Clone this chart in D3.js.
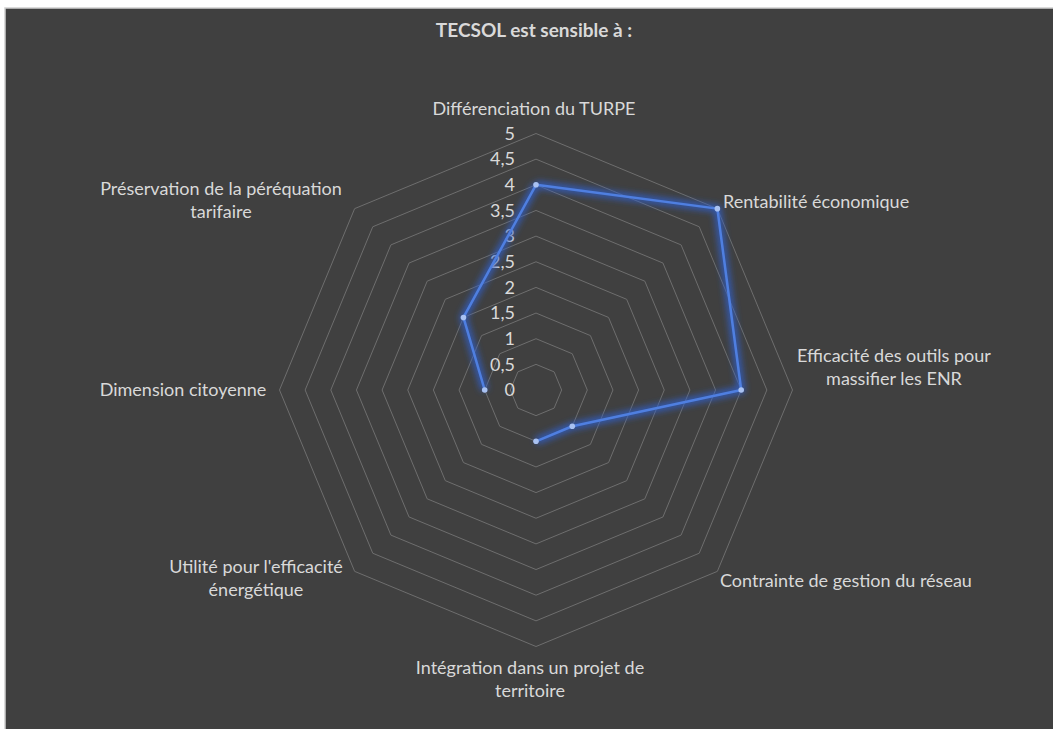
<!DOCTYPE html>
<html>
<head>
<meta charset="utf-8">
<script src="https://cdn.jsdelivr.net/npm/d3@7"></script>
<style>
  body { margin: 0; background: #ffffff; }
  text { font-family: Lato, "Open Sans", sans-serif; fill: #d9d9d9; }
</style>
</head>
<body>
<svg id="chart" width="1053" height="729"></svg>
<script>
// categories, clockwise from the top
const categories = [
    ["Différenciation du TURPE"],
    ["Rentabilité économique"],
    ["Efficacité des outils pour", "massifier les ENR"],
    ["Contrainte de gestion du réseau"],
    ["Intégration dans un projet de", "territoire"],
    ["Utilité pour l'efficacité", "énergétique"],
    ["Dimension citoyenne"],
    ["Préservation de la péréquation", "tarifaire"]
];
// series values (null = empty cell, gap in the line)
const values = [4, 5, 4, 1, 1, null, 1, 2];
// radial ticks
const ticks = [0, 0.5, 1, 1.5, 2, 2.5, 3, 3.5, 4, 4.5, 5];
const tickLabels = ["0", "0,5", "1", "1,5", "2", "2,5", "3", "3,5", "4", "4,5", "5"];
const title = "TECSOL est sensible à :";

const svg = d3.select("#chart");
const cx = 536, cy = 390;

// chart area background
svg.append("rect")
    .attr("x", 5).attr("y", 8)
    .attr("width", 1060).attr("height", 730)
    .attr("fill", "#404040")
    .attr("stroke", "#cfcfcf")
    .attr("stroke-width", 1.5);

svg.append("text")
    .attr("x", 534).attr("y", 37)
    .attr("text-anchor", "middle")
    .style("font-size", "19px")
    .style("font-weight", "bold")
    .text(title);

let r = d3.scaleLinear().domain([0, 5]).range([0, 256.5]);
let n = categories.length;
let angle = i => i * 2 * Math.PI / n;
let px = (i, v) => cx + r(v) * Math.sin(angle(i));
let py = (i, v) => cy - r(v) * Math.cos(angle(i));

let g = svg.append("g");

// grid octagons
g.selectAll("polygon.grid")
    .data(ticks.filter(t => t > 0))
    .enter()
    .append("polygon")
    .attr("class", "grid")
    .attr("points", t => d3.range(n).map(i => px(i, t) + "," + py(i, t)).join(" "))
    .attr("fill", "none")
    .attr("stroke", "#6e6e6e")
    .attr("stroke-width", 1);

// tick labels
g.selectAll("text.tick")
    .data(ticks)
    .enter()
    .append("text")
    .attr("class", "tick")
    .attr("x", cx - 21)
    .attr("y", t => cy - r(t))
    .attr("dy", "0.35em")
    .attr("text-anchor", "end")
    .style("font-size", "18px")
    .text((t, i) => tickLabels[i]);

// category labels
let labelPos = [
    {x: 534, y: 109, anchor: "middle"},
    {x: 723, y: 202, anchor: "start"},
    {x: 894, y: 356, anchor: "middle"},
    {x: 720, y: 581, anchor: "start"},
    {x: 530, y: 668, anchor: "middle"},
    {x: 256, y: 567, anchor: "middle"},
    {x: 183, y: 390, anchor: "middle"},
    {x: 221, y: 189, anchor: "middle"}
];
categories.forEach((lines, i) => {
    let t = g.append("text")
        .attr("x", labelPos[i].x)
        .attr("y", labelPos[i].y)
        .attr("text-anchor", labelPos[i].anchor)
        .style("font-size", "18px");
    lines.forEach((s, k) => {
        t.append("tspan")
            .attr("x", labelPos[i].x)
            .attr("dy", k === 0 ? "0.35em" : "23px")
            .text(s);
    });
});

// series line (closed, with gaps)
let pts = values.map((v, i) => ({i: i, v: v}));
pts.push(pts[0]);
let line = d3.line()
    .defined(d => d.v !== null)
    .x(d => px(d.i, d.v))
    .y(d => py(d.i, d.v));

let defs = svg.append("defs");
let glow = defs.append("filter").attr("id", "glow")
    .attr("x", "-20%").attr("y", "-20%").attr("width", "140%").attr("height", "140%");
glow.append("feGaussianBlur").attr("stdDeviation", 3);

g.append("path")
    .attr("d", line(pts))
    .attr("fill", "none")
    .attr("stroke", "#2f5fc8")
    .attr("stroke-width", 8)
    .attr("stroke-opacity", 0.8)
    .attr("stroke-linejoin", "round")
    .attr("filter", "url(#glow)");

g.append("path")
    .attr("d", line(pts))
    .attr("fill", "none")
    .attr("stroke", "#4f7fe0")
    .attr("stroke-width", 2.5)
    .attr("stroke-linejoin", "round");

g.selectAll("circle.pt")
    .data(pts.slice(0, n).filter(d => d.v !== null))
    .enter()
    .append("circle")
    .attr("class", "pt")
    .attr("cx", d => px(d.i, d.v))
    .attr("cy", d => py(d.i, d.v))
    .attr("r", 2.8)
    .attr("fill", "#a9c2f2");
</script>
</body>
</html>
